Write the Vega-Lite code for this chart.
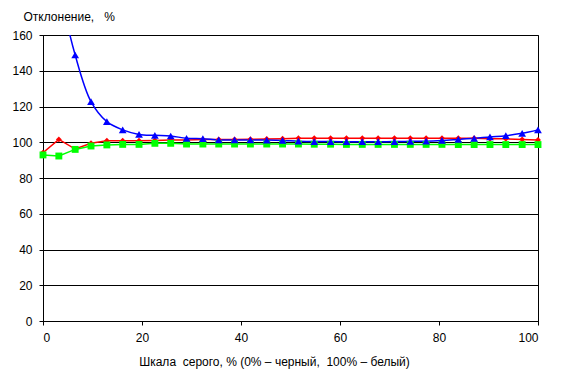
{
  "$schema": "https://vega.github.io/schema/vega-lite/v6.json",
  "width": 495,
  "height": 286,
  "autosize": {"type": "none"},
  "padding": {"left": 43, "top": 35, "right": 29, "bottom": 57},
  "background": "white",
  "config": {
    "view": {"stroke": "black", "strokeWidth": 1},
    "font": "Liberation Sans",
    "axis": {
      "labelFont": "Liberation Sans",
      "labelFontSize": 12,
      "labelColor": "black",
      "titleFont": "Liberation Sans",
      "titleFontSize": 12,
      "titleFontWeight": "normal",
      "titleColor": "black",
      "domainColor": "black",
      "tickColor": "black",
      "tickSize": 4,
      "gridColor": "black",
      "gridOpacity": 1
    }
  },
  "data": {
    "values": [
      {"x": 0, "s": "red", "v": 94.2},
      {"x": 3.2, "s": "red", "v": 101.6},
      {"x": 6.5, "s": "red", "v": 96.2},
      {"x": 9.7, "s": "red", "v": 99.4},
      {"x": 12.9, "s": "red", "v": 100.9},
      {"x": 16.1, "s": "red", "v": 100.9},
      {"x": 19.4, "s": "red", "v": 100.9},
      {"x": 22.6, "s": "red", "v": 101.0},
      {"x": 25.8, "s": "red", "v": 101.2},
      {"x": 29.0, "s": "red", "v": 101.3},
      {"x": 32.3, "s": "red", "v": 101.5},
      {"x": 35.5, "s": "red", "v": 101.5},
      {"x": 38.7, "s": "red", "v": 101.6},
      {"x": 41.9, "s": "red", "v": 101.7},
      {"x": 45.2, "s": "red", "v": 101.8},
      {"x": 48.4, "s": "red", "v": 102.0},
      {"x": 51.6, "s": "red", "v": 102.2},
      {"x": 54.8, "s": "red", "v": 102.2},
      {"x": 58.1, "s": "red", "v": 102.2},
      {"x": 61.3, "s": "red", "v": 102.2},
      {"x": 64.5, "s": "red", "v": 102.2},
      {"x": 67.7, "s": "red", "v": 102.2},
      {"x": 71.0, "s": "red", "v": 102.3},
      {"x": 74.2, "s": "red", "v": 102.3},
      {"x": 77.4, "s": "red", "v": 102.3},
      {"x": 80.6, "s": "red", "v": 102.3},
      {"x": 83.9, "s": "red", "v": 102.2},
      {"x": 87.1, "s": "red", "v": 102.2},
      {"x": 90.3, "s": "red", "v": 102.0},
      {"x": 93.5, "s": "red", "v": 101.9},
      {"x": 96.8, "s": "red", "v": 101.6},
      {"x": 100, "s": "red", "v": 101.3},
      {"x": 0, "s": "green", "v": 92.9},
      {"x": 3.2, "s": "green", "v": 92.3},
      {"x": 6.5, "s": "green", "v": 96.0},
      {"x": 9.7, "s": "green", "v": 97.9},
      {"x": 12.9, "s": "green", "v": 98.5},
      {"x": 16.1, "s": "green", "v": 98.8},
      {"x": 19.4, "s": "green", "v": 98.8},
      {"x": 22.6, "s": "green", "v": 99.4},
      {"x": 25.8, "s": "green", "v": 99.4},
      {"x": 29.0, "s": "green", "v": 99.0},
      {"x": 32.3, "s": "green", "v": 99.0},
      {"x": 35.5, "s": "green", "v": 99.0},
      {"x": 38.7, "s": "green", "v": 99.0},
      {"x": 41.9, "s": "green", "v": 99.0},
      {"x": 45.2, "s": "green", "v": 99.0},
      {"x": 48.4, "s": "green", "v": 99.0},
      {"x": 51.6, "s": "green", "v": 99.0},
      {"x": 54.8, "s": "green", "v": 98.9},
      {"x": 58.1, "s": "green", "v": 98.9},
      {"x": 61.3, "s": "green", "v": 98.8},
      {"x": 64.5, "s": "green", "v": 98.8},
      {"x": 67.7, "s": "green", "v": 98.8},
      {"x": 71.0, "s": "green", "v": 98.8},
      {"x": 74.2, "s": "green", "v": 98.8},
      {"x": 77.4, "s": "green", "v": 98.8},
      {"x": 80.6, "s": "green", "v": 98.8},
      {"x": 83.9, "s": "green", "v": 98.7},
      {"x": 87.1, "s": "green", "v": 98.7},
      {"x": 90.3, "s": "green", "v": 98.7},
      {"x": 93.5, "s": "green", "v": 98.7},
      {"x": 96.8, "s": "green", "v": 98.7},
      {"x": 100, "s": "green", "v": 98.7},
      {"x": 0, "s": "blue", "v": 240},
      {"x": 3.2, "s": "blue", "v": 188},
      {"x": 6.5, "s": "blue", "v": 148.8},
      {"x": 9.7, "s": "blue", "v": 122.7},
      {"x": 12.9, "s": "blue", "v": 111.5},
      {"x": 16.1, "s": "blue", "v": 106.9},
      {"x": 19.4, "s": "blue", "v": 104.4},
      {"x": 22.6, "s": "blue", "v": 103.9},
      {"x": 25.8, "s": "blue", "v": 103.5},
      {"x": 29.0, "s": "blue", "v": 102.2},
      {"x": 32.3, "s": "blue", "v": 102.0},
      {"x": 35.5, "s": "blue", "v": 101.3},
      {"x": 38.7, "s": "blue", "v": 101.3},
      {"x": 41.9, "s": "blue", "v": 101.3},
      {"x": 45.2, "s": "blue", "v": 101.2},
      {"x": 48.4, "s": "blue", "v": 101.0},
      {"x": 51.6, "s": "blue", "v": 100.6},
      {"x": 54.8, "s": "blue", "v": 100.4},
      {"x": 58.1, "s": "blue", "v": 100.4},
      {"x": 61.3, "s": "blue", "v": 100.3},
      {"x": 64.5, "s": "blue", "v": 100.3},
      {"x": 67.7, "s": "blue", "v": 100.3},
      {"x": 71.0, "s": "blue", "v": 100.4},
      {"x": 74.2, "s": "blue", "v": 100.5},
      {"x": 77.4, "s": "blue", "v": 100.6},
      {"x": 80.6, "s": "blue", "v": 101.0},
      {"x": 83.9, "s": "blue", "v": 101.6},
      {"x": 87.1, "s": "blue", "v": 102.2},
      {"x": 90.3, "s": "blue", "v": 103.0},
      {"x": 93.5, "s": "blue", "v": 103.7},
      {"x": 96.8, "s": "blue", "v": 105.0},
      {"x": 100, "s": "blue", "v": 106.9}
    ]
  },
  "encoding": {
    "x": {
      "field": "x", "type": "quantitative",
      "scale": {"domain": [0, 100], "nice": false},
      "axis": {
        "values": [0, 20, 40, 60, 80, 100],
        "grid": false,
        "labelPadding": 7,
        "title": "Шкала\u00a0 серого, % (0% – черный,\u00a0 100% – белый)",
        "titleX": 231,
        "titleY": 44,
        "titleAlign": "center",
        "titleBaseline": "alphabetic"
      }
    },
    "y": {
      "field": "v", "type": "quantitative",
      "scale": {"domain": [0, 160], "nice": false},
      "axis": {
        "values": [0, 20, 40, 60, 80, 100, 120, 140, 160],
        "grid": true,
        "labelPadding": 7,
        "title": "Отклонение,\u00a0\u00a0 %",
        "titleAngle": 0,
        "titleX": -20,
        "titleY": -15,
        "titleAlign": "left",
        "titleBaseline": "alphabetic"
      }
    },
    "color": {
      "field": "s", "type": "nominal",
      "scale": {"domain": ["red", "green", "blue"], "range": ["#FF0000", "#00FF00", "#0000FF"]},
      "legend": null
    }
  },
  "layer": [
    {
      "transform": [{"filter": "datum.s !== 'blue'"}],
      "mark": {"type": "line", "strokeWidth": 1.5, "clip": true}
    },
    {
      "transform": [{"filter": "datum.s === 'blue'"}],
      "mark": {"type": "line", "strokeWidth": 1.5, "interpolate": "catmull-rom", "clip": true}
    },
    {
      "transform": [{"filter": "datum.v <= 160"}],
      "mark": {"type": "point", "filled": true, "opacity": 1},
      "encoding": {
        "shape": {
          "field": "s", "type": "nominal",
          "scale": {"domain": ["red", "green", "blue"], "range": ["diamond", "square", "triangle-up"]},
          "legend": null
        },
        "size": {
          "field": "s", "type": "nominal",
          "scale": {"domain": ["red", "green", "blue"], "range": [35, 60, 55]},
          "legend": null
        }
      }
    }
  ]
}
